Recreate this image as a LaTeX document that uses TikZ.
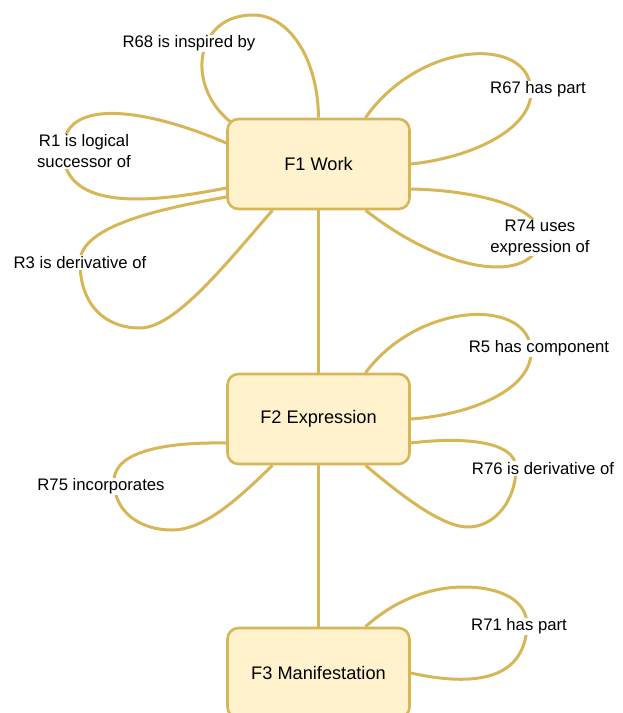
\documentclass[tikz,border=0pt]{standalone}
\usepackage{fontspec}
\setmainfont{Liberation Sans}
\usetikzlibrary{calc,backgrounds}
\definecolor{cLine}{HTML}{D6B656}
\definecolor{cFill}{HTML}{FFF2CC}
\tikzset{
  entity/.style={rectangle,rounded corners=11pt,fill=cFill,draw=cLine,line width=2.6pt,minimum width=182pt,minimum height=90pt,inner sep=0pt,font=\fontsize{18.2}{22}\selectfont},
  rel/.style={fill=white,inner sep=1pt,align=center,yshift=-1.5pt,font=\fontsize{16.7}{21}\selectfont},
  link/.style={draw=cLine,line width=3pt},
}

\begin{document}
\begin{tikzpicture}[x=1pt,y=-1pt]
  \useasboundingbox (0,0) rectangle (623,713);
  % the three entities
  \node[entity] (F1) at (318.5,164) {F1 Work};
  \node[entity] (F2) at (318.5,419) {F2 Expression};
  \node[entity] (F3) at (318.5,673) {F3 Manifestation};
  % relation labels
  \node[rel] (r68) at (189,42) {R68 is inspired by};
  \node[rel] (r1) at (84,150) {R1 is logical\\successor of};
  \node[rel] (r3) at (80,261) {R3 is derivative of};
  \node[rel] (r67) at (538,88) {R67 has part};
  \node[rel] (r74) at (540,236) {R74 uses\\expression of};
  \node[rel] (r5) at (539,347) {R5 has component};
  \node[rel] (r76) at (543,467) {R76 is derivative of};
  \node[rel] (r75) at (101,485) {R75 incorporates};
  \node[rel] (r71) at (519,625) {R71 has part};
  % connectors, kept behind the boxes
  \begin{scope}[on background layer]
    \draw[link] (F1) -- (F2);
    \draw[link] (F2) -- (F3);
    % loops on F1
    \draw[link] ($(F1.north west)+(4,4)$) .. controls (185,85) and (195,15) .. (253,15) .. controls (290,15) and (318,60) .. (F1.north);
    \draw[link] ($(F1.west)+(0,-21)$) .. controls (150,110) and (63,95) .. (63,150) .. controls (63,215) and (160,201) .. ($(F1.west)+(0,24)$);
    \draw[link] ($(F1.west)+(0,33)$) .. controls (165,208) and (80,225) .. (80,262) .. controls (80,305) and (105,328) .. (140,328) .. controls (175,328) and (225,265) .. ($(F1.south)+(-46,0)$);
    \draw[link] ($(F1.north)+(47,0)$) .. controls (420,40) and (531,35) .. (531,92) .. controls (531,130) and (470,158) .. (F1.east);
    \draw[link] ($(F1.east)+(0,25)$) .. controls (470,190) and (540,205) .. (540,235) .. controls (540,282) and (455,280) .. ($(F1.south)+(47,0)$);
    % loops on F2
    \draw[link] ($(F2.north)+(47,0)$) .. controls (420,300) and (531,298) .. (531,352) .. controls (531,390) and (470,415) .. (F2.east);
    \draw[link] ($(F2.east)+(0,24)$) .. controls (460,437) and (516,440) .. (516,468) .. controls (516,500) and (495,527) .. (468,527) .. controls (440,527) and (395,490) .. ($(F2.south)+(47,0)$);
    \draw[link] ($(F2.west)+(0,24)$) .. controls (170,442) and (114,450) .. (114,481) .. controls (114,512) and (140,530) .. (172,530) .. controls (205,530) and (240,497) .. ($(F2.south)+(-46,0)$);
    % loop on F3
    \draw[link] ($(F3.north)+(47,0)$) .. controls (395,600) and (430,587) .. (464,587) .. controls (500,587) and (527,600) .. (527,625) .. controls (525,685) and (465,685) .. (F3.east);
  \end{scope}
\end{tikzpicture}
\end{document}
